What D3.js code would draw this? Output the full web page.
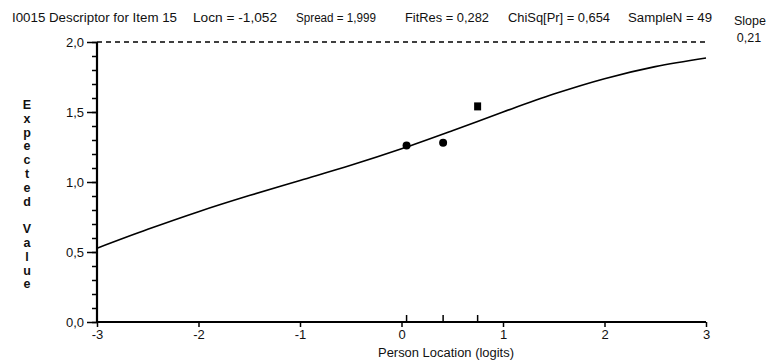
<!DOCTYPE html>
<html>
<head>
<meta charset="utf-8">
<script src="https://cdn.jsdelivr.net/npm/d3@7"></script>
<style>
  html, body { margin: 0; padding: 0; background: #fff; }
  svg { display: block; }
  text { font-family: "Liberation Sans", Arial, sans-serif; fill: #111; }
</style>
</head>
<body>
<script>
// Item characteristic curve for item I0015 (expected score vs person location)
const headerItems = [
  { text: "I0015  Descriptor for Item 15", x: 12, w: 165 },
  { text: "Locn = -1,052", x: 193, w: 84 },
  { text: "Spread = 1,999", x: 296, w: 80 },
  { text: "FitRes = 0,282", x: 405, w: 84 },
  { text: "ChiSq[Pr] = 0,654", x: 508, w: 102 },
  { text: "SampleN = 49", x: 628, w: 84 }
];
const slopeLabel = "Slope";
const slopeValue = "0,21";

// Expected-value curve, sampled every half logit
const curveLoc = [-3, -2.5, -2, -1.5, -1, -0.5, 0, 0.5, 1, 1.5, 2, 2.5, 3];
const curveExp = [0.527, 0.662, 0.788, 0.903, 1.011, 1.119, 1.237, 1.366, 1.500, 1.628, 1.738, 1.824, 1.886];

// Observed class-interval means
const classLoc = [0.05, 0.41, 0.75];
const classObs = [1.26, 1.28, 1.54];
const classShape = ["circle", "circle", "square"];

const xTickValues = [-3, -2, -1, 0, 1, 2, 3];
const xTickLabels = ["-3", "-2", "-1", "0", "1", "2", "3"];
const yTickValues = [0, 0.5, 1, 1.5, 2];
const yTickLabels = ["0,0", "0,5", "1,0", "1,5", "2,0"];
const yMinorValues = d3.range(0, 2.001, 0.1);
const maxScore = 2;

const W = 771, H = 363;
const svg = d3.select("body").append("svg").attr("width", W).attr("height", H);
svg.append("rect").attr("width", W).attr("height", H).attr("fill", "#fff");

const x = d3.scaleLinear().domain([-3, 3]).range([97, 706]);
const y = d3.scaleLinear().domain([0, 2]).range([322, 42]);

// Header line
svg.selectAll("text.hdr").data(headerItems).enter().append("text")
  .attr("class", "hdr")
  .attr("x", d => d.x).attr("y", 22)
  .attr("font-size", 12.5)
  .attr("textLength", d => d.w)
  .attr("lengthAdjust", "spacingAndGlyphs")
  .text(d => d.text);
svg.append("text").attr("x", 750).attr("y", 25).attr("text-anchor", "middle")
  .attr("font-size", 12.5).text(slopeLabel);
svg.append("text").attr("x", 749).attr("y", 42).attr("text-anchor", "middle")
  .attr("font-size", 12.5).text(slopeValue);

// Maximum score reference line
svg.append("line")
  .attr("x1", x(-3)).attr("x2", x(3))
  .attr("y1", y(maxScore)).attr("y2", y(maxScore))
  .attr("stroke", "#000").attr("stroke-width", 1.3)
  .attr("stroke-dasharray", "5,4");

// Y axis: minor ticks, then major ticks with labels
const yMinorAxis = d3.axisLeft(y).tickValues(yMinorValues).tickSize(5).tickFormat("");
const gyMinor = svg.append("g").attr("transform", `translate(${x(-3)},0)`).call(yMinorAxis);
gyMinor.select(".domain").remove();
gyMinor.selectAll("line").attr("stroke", "#000").attr("stroke-width", 1.5);

const yAxis = d3.axisLeft(y).tickValues(yTickValues).tickSize(10).tickPadding(3)
  .tickFormat((d, i) => yTickLabels[i]);
const gy = svg.append("g").attr("transform", `translate(${x(-3)},0)`).call(yAxis);
gy.select(".domain").attr("d", `M0,${y(2)}V${y(0)}`).attr("stroke", "#000").attr("stroke-width", 2.2);
gy.selectAll("line").attr("stroke", "#000").attr("stroke-width", 1.5);
gy.selectAll("text").attr("font-size", 13).attr("font-family", "Liberation Sans, Arial, sans-serif").attr("fill", "#111");

// X axis
const xAxis = d3.axisBottom(x).tickValues(xTickValues).tickSize(5).tickPadding(3)
  .tickFormat((d, i) => xTickLabels[i]);
const gx = svg.append("g").attr("transform", `translate(0,${y(0)})`).call(xAxis);
gx.select(".domain").attr("d", `M${x(-3)},0H${x(3)}`).attr("stroke", "#000").attr("stroke-width", 2.2);
gx.selectAll("line").attr("stroke", "#000").attr("stroke-width", 1.5);
gx.selectAll("text").attr("font-size", 13).attr("font-family", "Liberation Sans, Arial, sans-serif").attr("fill", "#111");

// Class-interval markers on the x axis
svg.selectAll("line.cls").data(classLoc).enter().append("line")
  .attr("class", "cls")
  .attr("x1", d => x(d)).attr("x2", d => x(d))
  .attr("y1", y(0)).attr("y2", y(0) - 7)
  .attr("stroke", "#000").attr("stroke-width", 1.5);

// Axis titles
svg.append("text").attr("x", 446).attr("y", 357).attr("text-anchor", "middle")
  .attr("font-size", 12.5).attr("textLength", 136).attr("lengthAdjust", "spacingAndGlyphs")
  .text("Person Location (logits)");

const yTitle = "Expected Value".split("");
svg.selectAll("text.ylab").data(yTitle).enter().append("text")
  .attr("class", "ylab")
  .attr("x", 27).attr("y", (d, i) => 109 + i * 13.8)
  .attr("text-anchor", "middle")
  .attr("font-size", 12.5).attr("font-weight", "bold")
  .text(d => d);

// Expected value curve
const line = d3.line()
  .x((d, i) => x(curveLoc[i]))
  .y(d => y(d))
  .curve(d3.curveMonotoneX);
svg.append("path").datum(curveExp)
  .attr("d", line)
  .attr("fill", "none").attr("stroke", "#000").attr("stroke-width", 1.6);

// Observed means
classLoc.forEach((loc, i) => {
  if (classShape[i] === "circle") {
    svg.append("circle").attr("cx", x(loc)).attr("cy", y(classObs[i])).attr("r", 4).attr("fill", "#000");
  } else {
    svg.append("rect").attr("x", x(loc) - 3.5).attr("y", y(classObs[i]) - 4)
      .attr("width", 7).attr("height", 8).attr("fill", "#000");
  }
});
</script>
</body>
</html>
